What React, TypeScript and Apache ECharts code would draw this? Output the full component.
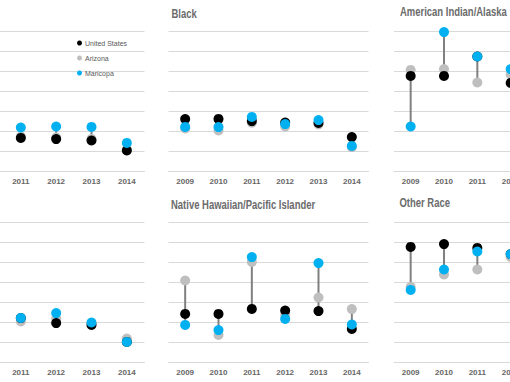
import React, { useEffect, useRef } from "react";
import * as echarts from "echarts";

const years = ["2009", "2010", "2011", "2012", "2013", "2014"];
const seriesNames = ["United States", "Arizona", "Maricopa"];

// Panel: top-left (title off-screen)
const tlUS = [null, null, 16.8, 16.2, 15.5, 10.5];
const tlAZ = [null, null, 17.5, 17.0, 16.3, 11.0];
const tlMC = [null, null, 22.0, 22.5, 22.3, 14.3];

// Black
const blUS = [26.2, 26.3, 25.2, 24.5, 24.3, 17.2];
const blAZ = [21.5, 20.5, 24.4, 22.5, 23.6, 12.2];
const blMC = [22.3, 22.2, 27.3, 23.7, 25.7, 12.8];

// American Indian/Alaska
const aiUS = [47.8, 47.8, 57.5, 44.3, null, null];
const aiAZ = [50.8, 51.2, 44.5, 48.5, null, null];
const aiMC = [22.5, 69.7, 57.5, 51.2, null, null];

// Bottom-left (title off-screen)
const bmUS = [null, null, 22.2, 19.7, 18.8, 10.3];
const bmAZ = [null, null, 20.5, 22.0, 19.5, 12.0];
const bmMC = [null, null, 22.3, 24.7, 20.0, 10.3];

// Native Hawaiian/Pacific Islander
const nhUS = [24.3, 24.3, 26.8, 26.0, 25.7, 16.8];
const nhAZ = [41.0, 13.8, 50.3, 23.7, 32.5, 26.7];
const nhMC = [18.8, 16.2, 52.7, 21.8, 49.7, 19.0];

// Other Race
const orUS = [57.8, 59.2, 57.3, 54.2, null, null];
const orAZ = [37.8, 44.0, 46.5, 52.8, null, null];
const orMC = [36.3, 46.5, 55.5, 54.2, null, null];

const panels = [
  { title: "", us: tlUS, az: tlAZ, mc: tlMC, left: -67.5, width: 212, top: 31.5, tx: 0, ty: 0, lf: 2, lt: 5 },
  { title: "Black", us: blUS, az: blAZ, mc: blMC, left: 168.5, width: 200, top: 31.5, tx: 171.5, ty: 13.3, lf: 0, lt: 5 },
  { title: "American Indian/Alaska", us: aiUS, az: aiAZ, mc: aiMC, left: 394, width: 200, top: 31.5, tx: 400, ty: 11.7, lf: 0, lt: 3 },
  { title: "", us: bmUS, az: bmAZ, mc: bmMC, left: -67.5, width: 212, top: 222.5, tx: 0, ty: 0, lf: 2, lt: 5 },
  { title: "Native Hawaiian/Pacific Islander", us: nhUS, az: nhAZ, mc: nhMC, left: 168.5, width: 200, top: 222.5, tx: 171, ty: 204.5, lf: 0, lt: 5 },
  { title: "Other Race", us: orUS, az: orAZ, mc: orMC, left: 394, width: 200, top: 222.5, tx: 399.5, ty: 202.7, lf: 0, lt: 3 },
];

const COLORS = ["#000000", "#bfbfbf", "#00b0f0"];
const FONT = "'Liberation Sans', Arial, sans-serif";

export default function App() {
  const ref = useRef<HTMLDivElement>(null);
  useEffect(() => {
    if (!ref.current) return;
    const chart = echarts.init(ref.current, null, { renderer: "svg" });
    const grid: any[] = [];
    const xAxis: any[] = [];
    const yAxis: any[] = [];
    const series: any[] = [];
    const graphic: any[] = [];
    panels.forEach((p, i) => {
      grid.push({
        left: p.left,
        top: p.top,
        width: p.width,
        height: 140,
        containLabel: false,
        outerBoundsMode: "none",
      });
      xAxis.push({
        type: "category",
        gridIndex: i,
        data: years,
        axisLine: { show: true, lineStyle: { color: "#d9d9d9", width: 1 } },
        axisTick: { show: false },
        axisLabel: {
          color: "#666666",
          fontSize: 8,
          fontFamily: FONT,
          fontWeight: "bold",
          margin: 6,
          interval: (idx: number) => idx >= p.lf && idx <= p.lt,
        },
        splitLine: { show: false },
      });
      yAxis.push({
        type: "value",
        gridIndex: i,
        min: 0,
        max: 70,
        interval: 10,
        axisLine: { show: false },
        axisTick: { show: false },
        axisLabel: { show: false },
        splitLine: { show: true, lineStyle: { color: "#d9d9d9", width: 1 } },
      });
      if (p.title) {
        graphic.push({
          type: "text",
          x: p.tx,
          y: p.ty,
          scaleX: 0.79,
          style: {
            text: p.title,
            fill: "#6b6b6b",
            font: "bold 12px 'Liberation Sans', Arial, sans-serif",
            textVerticalAlign: "middle",
            verticalAlign: "middle",
          },
        });
      }
      const ranges: any[] = [];
      years.forEach((_, k) => {
        const vals = [p.us[k], p.az[k], p.mc[k]].filter((v) => v !== null && v !== undefined) as number[];
        if (vals.length >= 2) ranges.push([k, Math.min(...vals), Math.max(...vals)]);
      });
      series.push({
        type: "custom",
        xAxisIndex: i,
        yAxisIndex: i,
        z: 1,
        silent: true,
        data: ranges,
        renderItem: (params: any, api: any) => {
          const a = api.coord([api.value(0), api.value(1)]);
          const b = api.coord([api.value(0), api.value(2)]);
          return {
            type: "line",
            shape: { x1: a[0], y1: a[1], x2: b[0], y2: b[1] },
            style: { stroke: "#808080", lineWidth: 2 },
          };
        },
      });
      const sets = [p.us, p.az, p.mc];
      const zs = [3, 2, 4];
      sets.forEach((d, s) => {
        series.push({
          type: "scatter",
          name: seriesNames[s],
          xAxisIndex: i,
          yAxisIndex: i,
          z: zs[s],
          symbol: "circle",
          symbolSize: 10,
          itemStyle: { color: COLORS[s], opacity: 1 },
          data: d,
        });
      });
    });
    chart.setOption({
      animation: false,
      backgroundColor: "#ffffff",
      graphic,
      grid,
      xAxis,
      yAxis,
      series,
      legend: {
        show: true,
        orient: "vertical",
        left: 77,
        top: 38,
        itemWidth: 5,
        itemHeight: 5,
        itemGap: 5,
        icon: "circle",
        padding: 0,
        data: seriesNames,
        textStyle: { color: "#595959", fontSize: 7, fontFamily: FONT, lineHeight: 10, padding: [0, 0, 0, -2] },
      },
    });
    return () => chart.dispose();
  }, []);
  return (
    <div
      ref={ref}
      style={{ position: "fixed", left: 0, top: 0, width: 510, height: 382, background: "#fff" }}
    />
  );
}
